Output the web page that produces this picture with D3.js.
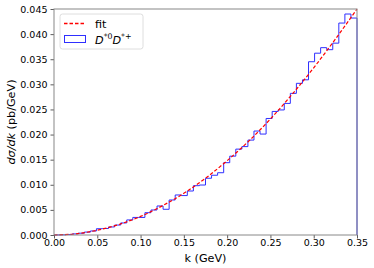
<!DOCTYPE html>
<html>
<head>
<meta charset="utf-8">
<script src="https://cdn.jsdelivr.net/npm/d3@7"></script>
<style>
  body { margin: 0; background: #fff; }
  svg { display: block; font-family: "DejaVu Sans", sans-serif; }
</style>
</head>
<body>
<div id="chart"></div>
<script>
// histogram of k, 50 bins from 0 to 0.35
const binStart = 0, binWidth = 0.007;
const histValues = [
  0.00001, 0.00004, 0.00010, 0.00022, 0.00036, 0.00058, 0.00080, 0.00125, 0.00130, 0.00160,
  0.00198, 0.00240, 0.00300, 0.00350, 0.00350, 0.00444, 0.00498, 0.00578, 0.00512, 0.00697,
  0.00797, 0.00785, 0.00876, 0.00982, 0.00995, 0.01130, 0.01190, 0.01240, 0.01440, 0.01570,
  0.01710, 0.01760, 0.01890, 0.02070, 0.02010, 0.02320, 0.02460, 0.02490, 0.02620, 0.02820,
  0.03020, 0.03090, 0.03450, 0.03620, 0.03730, 0.03690, 0.03820, 0.04220, 0.04400, 0.04320
];
// fit curve
const fitK = [0, 0.025, 0.05, 0.075, 0.10, 0.125, 0.15, 0.175, 0.20, 0.225, 0.25, 0.275, 0.30, 0.325, 0.35];
const fitY = [0, 0.00023, 0.00095, 0.0021, 0.0037, 0.0058, 0.0083, 0.0113, 0.0148, 0.0187, 0.0231, 0.0280, 0.0333, 0.0390, 0.0450];

const xTicks = [0, 0.05, 0.10, 0.15, 0.20, 0.25, 0.30, 0.35];
const yTicks = [0, 0.005, 0.010, 0.015, 0.020, 0.025, 0.030, 0.035, 0.040, 0.045];

const width = 374, height = 268;
const margin = {top: 9, right: 17, bottom: 33, left: 54};
const fontSize = 9.5, labelSize = 11.2;

const svg = d3.select('#chart').append('svg')
    .attr('width', width)
    .attr('height', height);

const x = d3.scaleLinear().domain([0, 0.35]).range([margin.left, width - margin.right]);
const y = d3.scaleLinear().domain([0, 0.045]).range([height - margin.bottom, margin.top]);

// step outline like histtype='step'
const edges = histValues.map((d, i) => binStart + i * binWidth);
const stepPts = [[binStart, 0]];
histValues.forEach((v, i) => {
    stepPts.push([edges[i], v]);
    stepPts.push([edges[i] + binWidth, v]);
});
stepPts.push([binStart + histValues.length * binWidth, 0]);

const line = d3.line().x(d => x(d[0])).y(d => y(d[1]));

svg.append('path')
    .datum(stepPts)
    .attr('fill', 'none')
    .attr('stroke', '#2f2fff')
    .attr('stroke-width', 1)
    .attr('d', line);

svg.append('path')
    .datum(fitK.map((k, i) => [k, fitY[i]]))
    .attr('fill', 'none')
    .attr('stroke', '#ff0000')
    .attr('stroke-width', 1.2)
    .attr('stroke-dasharray', '3.5,2')
    .attr('d', line.curve(d3.curveMonotoneX));

// axes
const xAxis = svg.append('g')
    .attr('transform', `translate(0,${height - margin.bottom})`)
    .call(d3.axisBottom(x).tickValues(xTicks).tickFormat(d3.format('.2f')).tickSize(3.5).tickPadding(1));
const yAxis = svg.append('g')
    .attr('transform', `translate(${margin.left},0)`)
    .call(d3.axisLeft(y).tickValues(yTicks).tickFormat(d3.format('.3f')).tickSize(3.5).tickPadding(3));

[xAxis, yAxis].forEach(g => {
    g.select('.domain').remove();
    g.selectAll('line').attr('stroke', '#333').attr('stroke-width', 0.8);
    g.selectAll('text').attr('font-size', fontSize).attr('font-family', '"DejaVu Sans", sans-serif').attr('fill', '#000');
});

// spines
svg.append('rect')
    .attr('x', margin.left)
    .attr('y', margin.top)
    .attr('width', width - margin.left - margin.right)
    .attr('height', height - margin.top - margin.bottom)
    .attr('fill', 'none')
    .attr('stroke', '#888')
    .attr('stroke-width', 1);

// axis labels
svg.append('text')
    .attr('x', (margin.left + width - margin.right) / 2)
    .attr('y', 261.5)
    .attr('text-anchor', 'middle')
    .attr('font-size', labelSize)
    .text('k (GeV)');

const yl = svg.append('text')
    .attr('transform', `translate(14.5,${(margin.top + height - margin.bottom) / 2}) rotate(-90)`)
    .attr('text-anchor', 'middle')
    .attr('font-size', labelSize);
yl.append('tspan').attr('font-style', 'italic').text('dσ/dk');
yl.append('tspan').text(' (pb/GeV)');

// legend
const lg = svg.append('g');
lg.append('rect')
    .attr('x', 60).attr('y', 14)
    .attr('width', 83).attr('height', 35)
    .attr('rx', 2.5)
    .attr('fill', '#fff')
    .attr('stroke', '#d6d6d6')
    .attr('stroke-width', 0.8);
lg.append('path')
    .attr('d', 'M64,23.5H86')
    .attr('fill', 'none')
    .attr('stroke', 'red')
    .attr('stroke-width', 1.3)
    .attr('stroke-dasharray', '3.5,2');
lg.append('text')
    .attr('x', 95).attr('y', 27.5)
    .attr('font-size', labelSize)
    .text('fit');
lg.append('rect')
    .attr('x', 64.5).attr('y', 35.5)
    .attr('width', 21).attr('height', 7)
    .attr('fill', 'none')
    .attr('stroke', '#2f2fff')
    .attr('stroke-width', 1);
const lt = lg.append('text')
    .attr('x', 95).attr('y', 43.5)
    .attr('font-size', labelSize)
    .attr('font-style', 'italic');
lt.append('tspan').text('D');
lt.append('tspan').attr('dy', -4.5).attr('font-size', 7.8).attr('font-style', 'normal').text('*0');
lt.append('tspan').attr('dy', 4.5).text('D');
lt.append('tspan').attr('dy', -4.5).attr('font-size', 7.8).attr('font-style', 'normal').text('*+');
</script>
</body>
</html>
